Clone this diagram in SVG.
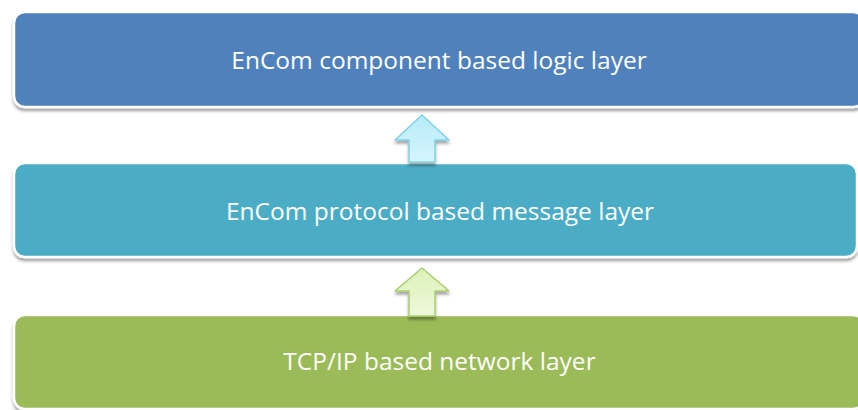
<svg xmlns="http://www.w3.org/2000/svg" width="858" height="410" viewBox="0 0 858 410">
  <defs>
    <filter id="shadow" x="-5%" y="-20%" width="110%" height="150%">
      <feGaussianBlur in="SourceAlpha" stdDeviation="1.5"/>
      <feOffset dx="0" dy="2.5" result="b"/>
      <feComponentTransfer><feFuncA type="linear" slope="0.35"/></feComponentTransfer>
      <feMerge><feMergeNode/><feMergeNode in="SourceGraphic"/></feMerge>
    </filter>
    <linearGradient id="gBlueArrow" x1="0" y1="0" x2="0" y2="1">
      <stop offset="0" stop-color="#b7ebf9"/>
      <stop offset="1" stop-color="#d6f5fd"/>
    </linearGradient>
    <linearGradient id="gGreenArrow" x1="0" y1="0" x2="0" y2="1">
      <stop offset="0" stop-color="#dcf1b8"/>
      <stop offset="1" stop-color="#eef9dc"/>
    </linearGradient>
  </defs>
  <style>
    .layer { stroke: #ffffff; stroke-width: 2.5; filter: url(#shadow); }
    .label { font-family: "Open Sans", "Liberation Sans", sans-serif; font-size: 24.5px; fill: #ffffff; text-anchor: middle; }
    .arrow { stroke-width: 1.5; stroke-linejoin: round; filter: url(#shadow); }
  </style>
  <rect width="858" height="410" fill="#ffffff"/>

  <g id="logic-layer">
    <rect class="layer" x="14" y="12" width="850" height="95" rx="11" fill="#4f81bd"/>
    <text class="label" x="439" y="69">EnCom component based logic layer</text>
  </g>

  <g id="message-layer">
    <rect class="layer" x="14" y="163" width="843" height="94" rx="11" fill="#4bacc6"/>
    <text class="label" x="440" y="220">EnCom protocol based message layer</text>
  </g>

  <g id="network-layer">
    <rect class="layer" x="14" y="315" width="850" height="94" rx="11" fill="#9bbb59"/>
    <text class="label" x="439.5" y="370">TCP/IP based network layer</text>
  </g>

  <g id="connectors">
    <path class="arrow" d="M422 115 L449 140 L435 140 L435 162 L409 162 L409 140 L395 140 Z" fill="url(#gBlueArrow)" stroke="#7ed2e8"/>
    <path class="arrow" d="M422 268 L449 291 L435 291 L435 316 L409 316 L409 291 L395 291 Z" fill="url(#gGreenArrow)" stroke="#a9cf6e"/>
  </g>
</svg>
